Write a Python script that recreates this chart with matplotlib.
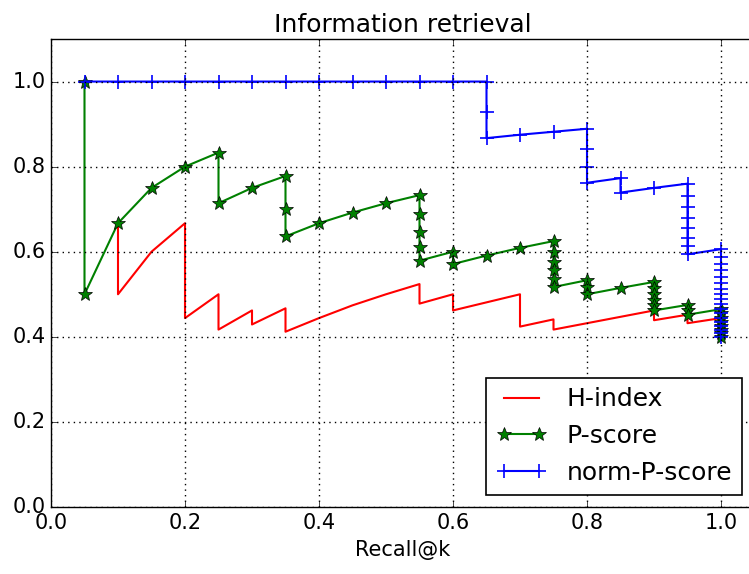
import matplotlib
matplotlib.use("Agg")
import matplotlib.pyplot as plt

plt.style.use("classic")

# H-index (no markers)
h_recall = [0.10, 0.10, 0.15, 0.20, 0.20, 0.25, 0.25, 0.30, 0.30, 0.35, 0.35, 0.40, 0.45,
            0.50, 0.55, 0.55, 0.60, 0.60, 0.65, 0.70, 0.70, 0.75, 0.75, 0.80, 0.85, 0.90,
            0.90, 0.95, 0.95, 1.00]
h_value = [0.667, 0.500, 0.600, 0.667, 0.444, 0.500, 0.417, 0.462, 0.429, 0.467, 0.412, 0.444, 0.474,
           0.500, 0.524, 0.478, 0.500, 0.462, 0.481, 0.500, 0.424, 0.441, 0.417, 0.432, 0.447, 0.462,
           0.439, 0.452, 0.432, 0.444]

# P-score
p_recall = [0.05, 0.05, 0.10, 0.15, 0.20, 0.25, 0.25, 0.30, 0.35, 0.35, 0.35, 0.40, 0.45, 0.50,
            0.55, 0.55, 0.55, 0.55, 0.55, 0.60, 0.60, 0.65, 0.70, 0.75, 0.75, 0.75, 0.75, 0.75,
            0.75, 0.80, 0.80, 0.80, 0.85, 0.90, 0.90, 0.90, 0.90, 0.90, 0.90, 0.95, 0.95, 0.95,
            1.00, 1.00, 1.00, 1.00, 1.00, 1.00, 1.00, 1.00]
p_value = [1.000, 0.500, 0.667, 0.750, 0.800, 0.833, 0.714, 0.750, 0.778, 0.700, 0.636, 0.667, 0.692, 0.714,
           0.733, 0.688, 0.647, 0.611, 0.579, 0.600, 0.571, 0.591, 0.609, 0.625, 0.600, 0.577, 0.556, 0.536,
           0.517, 0.533, 0.516, 0.500, 0.515, 0.529, 0.514, 0.500, 0.486, 0.474, 0.462, 0.475, 0.463, 0.452,
           0.465, 0.455, 0.444, 0.435, 0.426, 0.417, 0.408, 0.400]

# norm-P-score
n_recall = [0.05, 0.10, 0.15, 0.20, 0.25, 0.30, 0.35, 0.40, 0.45, 0.50, 0.55, 0.60, 0.65, 0.65, 0.65,
            0.70, 0.75, 0.80, 0.80, 0.80, 0.80, 0.85, 0.85, 0.90,
            0.95, 0.95, 0.95, 0.95, 0.95, 0.95, 0.95, 0.95,
            1.00, 1.00, 1.00, 1.00, 1.00, 1.00, 1.00, 1.00, 1.00, 1.00, 1.00, 1.00, 1.00, 1.00, 1.00, 1.00,
            1.00, 1.00]
n_value = [1.000, 1.000, 1.000, 1.000, 1.000, 1.000, 1.000, 1.000, 1.000, 1.000, 1.000, 1.000, 1.000, 0.929, 0.867,
           0.875, 0.882, 0.889, 0.842, 0.800, 0.762, 0.773, 0.739, 0.750,
           0.760, 0.731, 0.704, 0.679, 0.655, 0.633, 0.613, 0.594,
           0.606, 0.588, 0.571, 0.556, 0.541, 0.526, 0.513, 0.500, 0.488, 0.476, 0.465, 0.455, 0.444, 0.435, 0.426, 0.417,
           0.408, 0.400]

fig = plt.figure(figsize=(7.49, 5.74), dpi=100, facecolor="white")
ax = fig.add_axes([51 / 749, 67 / 574, 703.5 / 749, 468 / 574])
ax.set_facecolor("white")

ax.plot(h_recall, h_value, color="r", lw=1.5, label="H-index")
ax.plot(p_recall, p_value, color="g", lw=1.5, marker="*", markersize=10,
        markerfacecolor="g", markeredgecolor="k", label="P-score")
ax.plot(n_recall, n_value, color="b", lw=1.5, marker="+", markersize=10,
        markeredgewidth=1.2, label="norm-P-score")

ax.set_xlim(0, 1.05)
ax.set_ylim(0, 1.1)
ax.set_xticks([0.0, 0.2, 0.4, 0.6, 0.8, 1.0])
ax.set_yticks([0.0, 0.2, 0.4, 0.6, 0.8, 1.0])
ax.grid(True, color="k", linestyle=":", linewidth=1.0)
ax.tick_params(labelsize=15)
ax.set_title("Information retrieval", fontsize=18)
ax.set_xlabel("Recall@k", fontsize=15)
leg = ax.legend(loc="lower right", fontsize=18, numpoints=2)
leg.get_frame().set_linewidth(1.2)

fig.savefig("out.png", dpi=100, facecolor="white")
